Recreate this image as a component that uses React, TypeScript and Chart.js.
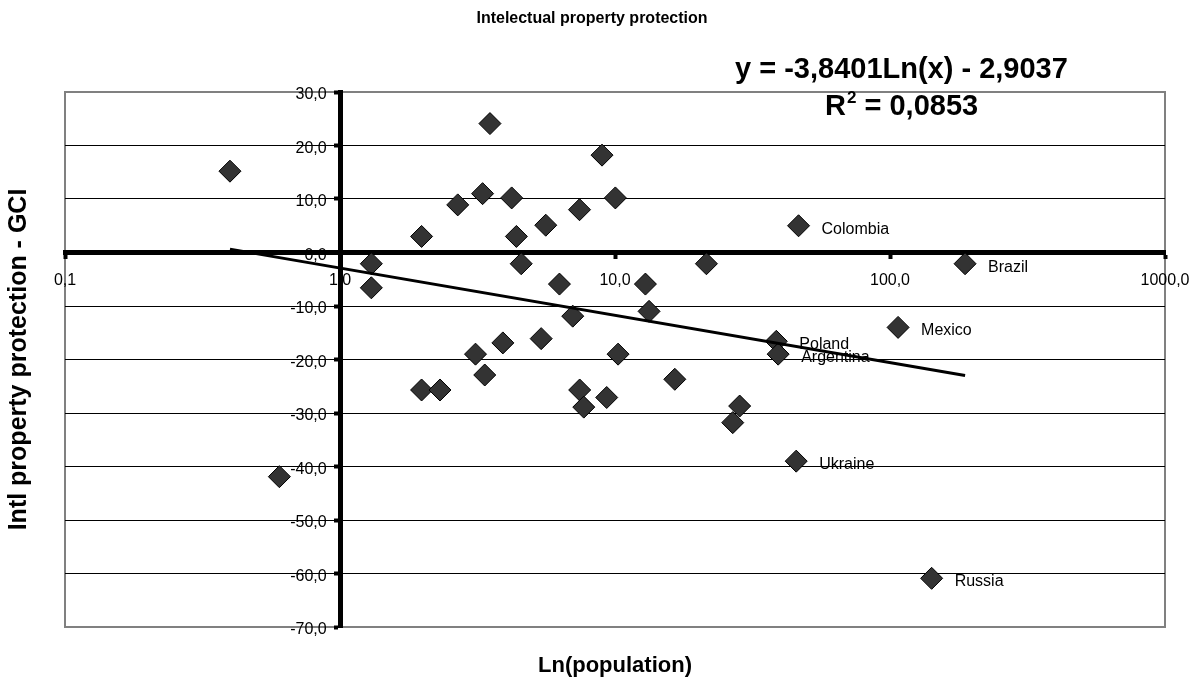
import React, { useEffect, useRef } from 'react';
import { Chart, registerables } from 'chart.js';

Chart.register(...registerables);

const CHART_TITLE = 'Intelectual property protection';
const X_TITLE = 'Ln(population)';
const Y_TITLE = 'Intl property protection - GCI';
const EQUATION_TEXT = 'y = -3,8401Ln(x) - 2,9037';
const R2_TEXT = '0,0853';
const TREND_SLOPE = -3.8401;
const TREND_INTERCEPT = -2.9037;

const POPULATION = [
  0.398, 0.602, 1.3, 1.3, 1.98, 1.98, 2.31, 2.68, 3.11, 3.3,
  3.36, 3.51, 3.91, 4.21, 4.38, 4.56, 5.39, 5.6, 6.28, 7.02,
  7.43, 7.44, 7.7, 8.97, 9.33, 10.03, 10.26, 12.9, 13.3, 16.5,
  21.5, 26.8, 28.4, 38.6, 39.2, 45.6, 46.5, 107, 141.7, 187.5,
];
const GCI = [
  15.2, -41.9, -2.1, -6.6, 3.0, -25.7, -25.7, 8.9, -19.0, 11.0,
  -22.9, 24.1, -16.9, 10.2, 3.0, -2.1, -16.1, 5.1, -5.9, -11.9,
  8.0, -25.7, -28.9, 18.2, -27.1, 10.2, -19.0, -5.9, -11.0, -23.7,
  -2.1, -31.8, -28.7, -16.6, -19.0, -39.0, 5.0, -14.0, -60.9, -2.1,
];
const COUNTRY = [
  '', '', '', '', '', '', '', '', '', '',
  '', '', '', '', '', '', '', '', '', '',
  '', '', '', '', '', '', '', '', '', '',
  '', '', '', 'Poland', 'Argentina', 'Ukraine', 'Colombia', 'Mexico', 'Russia', 'Brazil',
];
const X_TICKS = [0.1, 1, 10, 100, 1000];
const Y_MIN = -70;
const Y_MAX = 30;
const Y_STEP = 10;

const FAMILY = "'Liberation Sans', Arial, Helvetica, sans-serif";

const fmt = (v: number) => Number(v).toFixed(1).replace('.', ',');

function drawText(
  ctx: CanvasRenderingContext2D,
  text: string,
  x: number,
  y: number,
  font: string,
  align: CanvasTextAlign,
) {
  ctx.save();
  ctx.font = font;
  ctx.fillStyle = '#000';
  ctx.textBaseline = 'alphabetic';
  ctx.textAlign = align;
  ctx.fillText(text, x, y);
  ctx.restore();
}

const decorPlugin = {
  id: 'decor',
  beforeDraw(chart: any) {
    const { ctx, chartArea: a } = chart;
    ctx.save();
    ctx.fillStyle = '#fff';
    ctx.fillRect(0, 0, chart.width, chart.height);
    ctx.strokeStyle = '#808080';
    ctx.lineWidth = 2;
    ctx.strokeRect(a.left, a.top, a.right - a.left, a.bottom - a.top);
    ctx.restore();
  },
  beforeDatasetsDraw(chart: any) {
    const { ctx } = chart;
    const meta = chart.getDatasetMeta(0);
    ctx.save();
    ctx.font = `16px ${FAMILY}`;
    ctx.fillStyle = '#000';
    ctx.textAlign = 'left';
    ctx.textBaseline = 'alphabetic';
    meta.data.forEach((el: any, i: number) => {
      const name = COUNTRY[i];
      if (name) ctx.fillText(name, el.x + 23, el.y + 8);
    });
    ctx.restore();
  },
  afterDraw(chart: any) {
    const { ctx, chartArea: a } = chart;
    drawText(ctx, CHART_TITLE, 592, 23, `bold 16px ${FAMILY}`, 'center');
    drawText(ctx, X_TITLE, (a.left + a.right) / 2, 672, `bold 22px ${FAMILY}`, 'center');
    ctx.save();
    ctx.translate(26, (a.top + a.bottom) / 2);
    ctx.rotate(-Math.PI / 2);
    ctx.font = `bold 25px ${FAMILY}`;
    ctx.fillStyle = '#000';
    ctx.textAlign = 'center';
    ctx.textBaseline = 'alphabetic';
    ctx.fillText(Y_TITLE, 0, 0);
    ctx.restore();
    drawText(ctx, EQUATION_TEXT, 735, 78, `bold 29px ${FAMILY}`, 'left');
    // R^2 line
    ctx.save();
    const big = `bold 29px ${FAMILY}`;
    const small = `bold 17px ${FAMILY}`;
    ctx.fillStyle = '#000';
    ctx.textBaseline = 'alphabetic';
    ctx.textAlign = 'left';
    ctx.font = big;
    const wR = ctx.measureText('R').width;
    ctx.font = small;
    const w2 = ctx.measureText('2').width;
    const x0 = 825;
    const y0 = 115;
    ctx.font = big;
    ctx.fillText('R', x0, y0);
    ctx.font = small;
    ctx.fillText('2', x0 + wR + 1, y0 - 12);
    ctx.font = big;
    ctx.fillText(' = ' + R2_TEXT, x0 + wR + w2 + 1, y0);
    ctx.restore();
  },
};

export default function App() {
  const canvasRef = useRef<HTMLCanvasElement | null>(null);

  useEffect(() => {
    const canvas = canvasRef.current;
    if (!canvas) return;
    const xMin = Math.min(...POPULATION);
    const xMax = Math.max(...POPULATION);
    const trend = [xMin, xMax].map((x) => ({ x, y: TREND_SLOPE * Math.log(x) + TREND_INTERCEPT }));
    const points = POPULATION.map((x, i) => ({ x, y: GCI[i] }));

    const chart = new Chart(canvas, {
      type: 'scatter',
      data: {
        datasets: [
          {
            label: 'GCI',
            data: points,
            pointStyle: 'rectRot',
            pointRadius: 11,
            pointBackgroundColor: '#333333',
            pointBorderColor: '#000000',
            pointBorderWidth: 1,
            order: 1,
          } as any,
          {
            label: 'Trend',
            data: trend,
            showLine: true,
            borderColor: '#000000',
            borderWidth: 3,
            pointRadius: 0,
            fill: false,
            order: 0,
          } as any,
        ],
      },
      options: {
        responsive: false,
        animation: false,
        devicePixelRatio: 1,
        layout: { padding: { left: 65, right: 26, top: 92, bottom: 53 } },
        plugins: {
          legend: { display: false },
          tooltip: { enabled: false },
          title: { display: false },
        },
        scales: {
          x: {
            type: 'logarithmic',
            min: 0.1,
            max: 1000,
            position: { y: 0 } as any,
            afterBuildTicks: (scale: any) => {
              scale.ticks = X_TICKS.map((v) => ({ value: v }));
            },
            ticks: {
              callback: (v: any) => fmt(v),
              font: { family: FAMILY, size: 16, lineHeight: 2.9 },
              color: '#000',
              padding: 1,
              maxRotation: 0,
              autoSkip: false,
              z: -1,
            } as any,
            grid: {
              drawOnChartArea: false,
              drawTicks: true,
              tickLength: 4,
              tickWidth: 4,
              tickColor: '#000',
            },
            border: { display: true, color: '#000', width: 5 },
          },
          y: {
            type: 'linear',
            min: Y_MIN,
            max: Y_MAX,
            position: { x: 1 } as any,
            ticks: {
              stepSize: Y_STEP,
              callback: (v: any) => fmt(v) + '   ',
              font: { family: FAMILY, size: 16 },
              color: '#000',
              labelOffset: 3,
              autoSkip: false,
              z: -1,
            } as any,
            grid: {
              color: (c: any) =>
                c.tick && (c.tick.value === Y_MAX || c.tick.value === Y_MIN) ? '#808080' : '#000000',
              lineWidth: 1,
              tickLength: 4,
              tickWidth: 4,
              tickColor: '#000',
            },
            border: { display: true, color: '#000', width: 5 },
          },
        },
      },
      plugins: [decorPlugin],
    } as any);

    return () => chart.destroy();
  }, []);

  return (
    <div style={{ position: 'absolute', left: 0, top: 0, width: 1191, height: 680, background: '#fff' }}>
      <canvas ref={canvasRef} width={1191} height={680} style={{ display: 'block' }} />
    </div>
  );
}
